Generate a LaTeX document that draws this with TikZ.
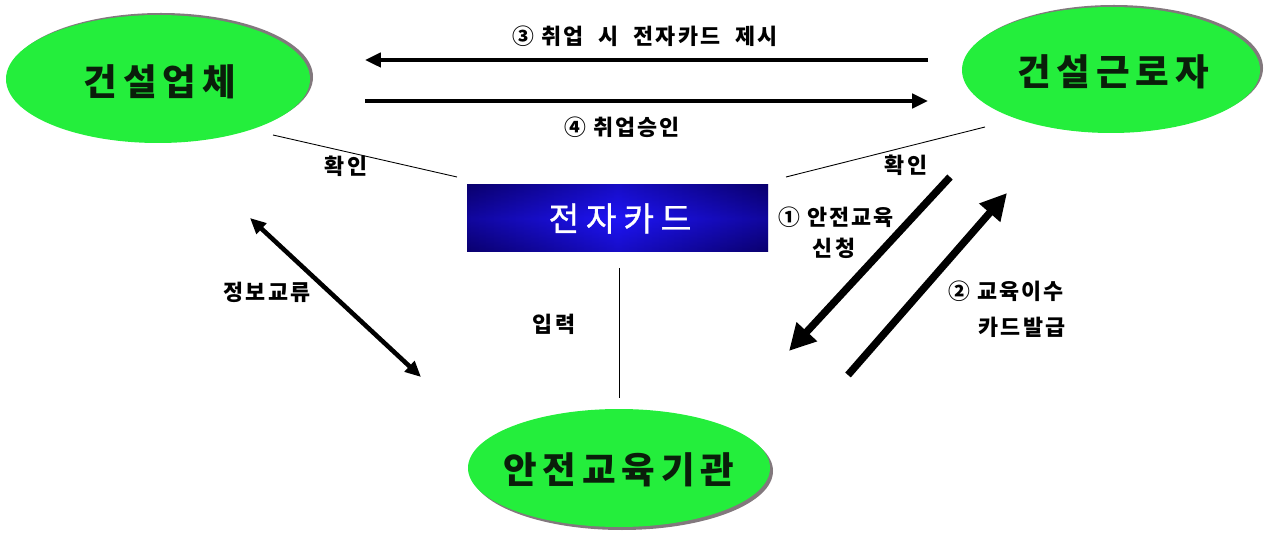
\documentclass[tikz,border=0pt]{standalone}
\usepackage{fontspec}
\setmainfont{Noto Sans CJK KR}
\newfontfamily\lblfont[LetterSpace=10,WordSpace=2.1]{Noto Sans CJK KR}
\newfontfamily\ovalfont[LetterSpace=16]{Noto Sans CJK KR}
\newfontfamily\cardfont[LetterSpace=20,FakeBold=1]{Noto Sans CJK KR}
\usetikzlibrary{shapes.geometric,arrows.meta}
\definecolor{ovalgreen}{RGB}{36,238,60}
\definecolor{shadowgray}{RGB}{130,120,125}
\definecolor{cardnavy}{RGB}{10,0,110}
\definecolor{cardblue}{RGB}{30,20,245}
\definecolor{ovaltext}{RGB}{10,30,10}
\tikzset{
  ovaltxt/.style={inner sep=0pt, text=ovaltext, font=\ovalfont\bfseries\fontsize{20.8}{25}\selectfont},
  lbl/.style={font=\lblfont\bfseries\fontsize{12.4}{15}\selectfont, inner sep=1pt},
  thinline/.style={line width=0.5pt, black},
  flowarrow/.style={line width=2.2pt, -{Triangle[length=9pt,width=8pt]}},
  bigarrow/.style={line width=4.2pt, -{Triangle[length=15pt,width=15pt]}},
  infoarrow/.style={line width=2.6pt, {Triangle[length=9pt,width=8pt]}-{Triangle[length=9pt,width=8pt]}},
}
\newcommand{\cnum}[1]{#1\hspace{4pt}}
\begin{document}
\begin{tikzpicture}[x=0.02cm,y=-0.02cm]
\useasboundingbox (0,0) rectangle (1264,533);
% shadows
\fill[shadowgray] (161,77) ellipse [x radius=152, y radius=64];
\fill[shadowgray] (1114,68) ellipse [x radius=149, y radius=63];
\fill[shadowgray] (622,471) ellipse [x radius=151, y radius=59];
% ovals
\fill[ovalgreen] (158,79) ellipse [x radius=152, y radius=64];
\fill[ovalgreen] (1111,70) ellipse [x radius=149, y radius=63];
\fill[ovalgreen] (619,468) ellipse [x radius=151, y radius=59];
\node[ovaltxt] (firm) at (160,82) {건설업체};
\node[ovaltxt] (worker) at (1113,72) {건설근로자};
\node[ovaltxt] (inst) at (619,470) {안전교육기관};
% card
\shade[left color=cardnavy, right color=cardnavy, middle color=cardblue] (467,185) rectangle (768,252);
\shade[top color=cardnavy, bottom color=cardnavy, middle color=cardblue, opacity=0.35] (467,185) rectangle (768,252);
\node[inner sep=0pt, text=white, font=\cardfont\fontsize{19}{23}\selectfont] (card) at (620,218.5) {전자카드};
% coordinates
\coordinate (a3s) at (928,60);
\coordinate (a3e) at (365,60);
\coordinate (a4s) at (365,101);
\coordinate (a4e) at (928,101);
\coordinate (cl1) at (273,135);
\coordinate (cl2) at (457,177);
\coordinate (cr1) at (985,127);
\coordinate (cr2) at (786,177);
\coordinate (in1) at (619,268);
\coordinate (in2) at (619,398);
\coordinate (ex1) at (250,218);
\coordinate (ex2) at (421,377);
\coordinate (a1s) at (950,177);
\coordinate (a1e) at (789,351);
\coordinate (a2s) at (848,375);
\coordinate (a2e) at (1007,193);
% arrows
\draw[flowarrow] (a3s) -- (a3e);
\draw[flowarrow] (a4s) -- (a4e);
\draw[thinline] (cl1) -- (cl2);
\draw[thinline] (cr1) -- (cr2);
\draw[thinline] (in1) -- (in2);
\draw[infoarrow] (ex1) -- (ex2);
\draw[bigarrow] (a1s) -- (a1e);
\draw[bigarrow] (a2s) -- (a2e);
% labels
\node[lbl] (l3) at (645,36) {\cnum{③}취업 시 전자카드 제시};
\node[lbl] (l4) at (622,127) {\cnum{④}취업승인};
\node[lbl] (lc1) at (346,166) {확인};
\node[lbl] (lc2) at (906,165) {확인};
\node[lbl] (lin) at (554,324) {입력};
\node[lbl] (lex) at (267,292) {정보교류};
\node[lbl] (l1a) at (836,217) {\cnum{①}안전교육};
\node[lbl] (l1b) at (834,248) {신청};
\node[lbl] (l2a) at (1006,291) {\cnum{②}교육이수};
\node[lbl] (l2b) at (1022,327) {카드발급};
\end{tikzpicture}
\end{document}
